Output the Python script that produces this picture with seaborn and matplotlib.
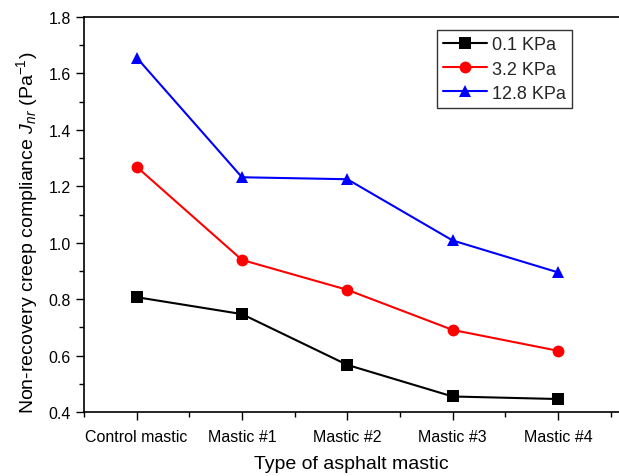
import matplotlib
matplotlib.use("Agg")
import matplotlib.pyplot as plt
import seaborn as sns
import pandas as pd
from matplotlib.ticker import MultipleLocator

categories = ["Control mastic", "Mastic #1", "Mastic #2", "Mastic #3", "Mastic #4"]
series_names = ["0.1 KPa", "3.2 KPa", "12.8 KPa"]
jnr_01 = [0.807, 0.747, 0.567, 0.455, 0.446]
jnr_32 = [1.269, 0.939, 0.833, 0.691, 0.617]
jnr_128 = [1.656, 1.232, 1.225, 1.008, 0.895]

rows = []
for name, vals in zip(series_names, [jnr_01, jnr_32, jnr_128]):
    for i, (c, v) in enumerate(zip(categories, vals)):
        rows.append({"pos": i, "mastic": c, "stress": name, "Jnr": v})
df = pd.DataFrame(rows)

sns.set_theme(style="white")
plt.rcParams["font.family"] = ["Liberation Sans", "DejaVu Sans"]
plt.rcParams["mathtext.fontset"] = "custom"
plt.rcParams["mathtext.it"] = "Liberation Sans:italic"
plt.rcParams["mathtext.rm"] = "Liberation Sans"

fig = plt.figure(figsize=(6.19, 4.77), dpi=100)
ax = fig.add_axes([84/619, 64/477, 1 - 84/619, (413-18)/477])

palette = {"0.1 KPa": "black", "3.2 KPa": "red", "12.8 KPa": "blue"}
markers = {"0.1 KPa": "s", "3.2 KPa": "o", "12.8 KPa": "^"}
sns.lineplot(data=df, x="pos", y="Jnr", hue="stress", style="stress",
             palette=palette, markers=markers, dashes=False,
             hue_order=series_names, style_order=series_names,
             linewidth=1.5, markersize=8.5, markeredgewidth=0, ax=ax)

ax.set_xlim(-0.5, 4.58)
ax.set_ylim(0.4, 1.8)
ax.set_xticks(range(len(categories)))
ax.set_xticklabels(categories)
ax.xaxis.set_minor_locator(MultipleLocator(0.5))
ax.yaxis.set_major_locator(MultipleLocator(0.2))
ax.yaxis.set_minor_locator(MultipleLocator(0.1))
ax.yaxis.set_major_formatter(matplotlib.ticker.FormatStrFormatter("%.1f"))
ax.tick_params(axis="both", which="major", direction="out", length=6, width=1,
               labelsize=11.5, color="black", labelcolor="black")
ax.tick_params(axis="both", which="minor", direction="out", length=3.5, width=1,
               color="black")
ax.tick_params(axis="x", bottom=True, which="both", pad=6)
ax.tick_params(axis="y", left=True, which="both")
for side in ["left", "bottom", "top"]:
    ax.spines[side].set_visible(True)
    ax.spines[side].set_color("black")
    ax.spines[side].set_linewidth(1.2)
ax.spines["right"].set_visible(False)

ax.set_xlabel("Type of asphalt mastic", fontsize=14, color="black", labelpad=8)
ax.set_ylabel(r"Non-recovery creep compliance $J_{nr}$ (Pa$^{-1}$)", fontsize=14,
              color="black")
ax.yaxis.set_label_coords(-0.082, 0.455)

handles, labels = ax.get_legend_handles_labels()
leg = ax.legend(handles, labels, loc="upper left",
                bbox_to_anchor=(437/619, (477-31)/477), bbox_transform=fig.transFigure,
                fontsize=13, frameon=True, fancybox=False, edgecolor="black",
                handlelength=2.4, handletextpad=0.3, borderpad=0.35,
                labelspacing=0.4, borderaxespad=0, markerscale=1.0)
leg.get_frame().set_linewidth(1.0)
for line in leg.get_lines():
    line.set_linewidth(1.5)

fig.savefig("out.png", dpi=100)
